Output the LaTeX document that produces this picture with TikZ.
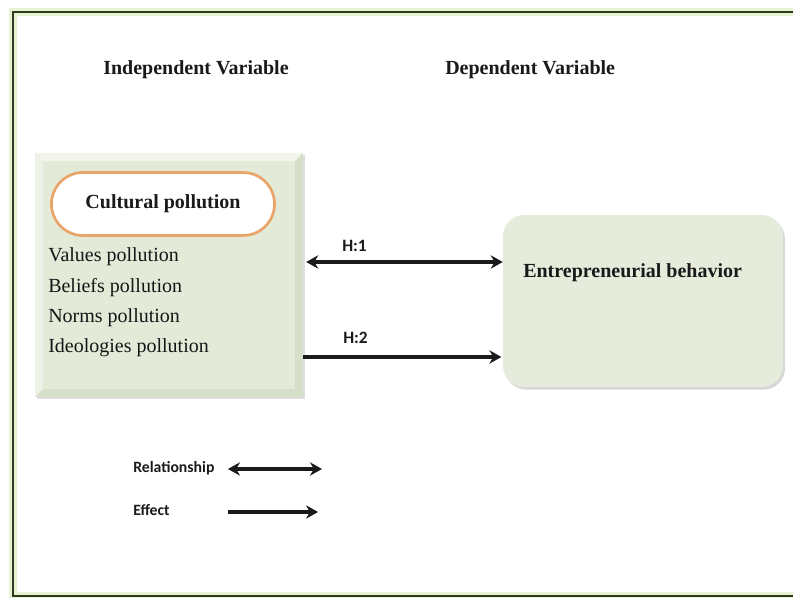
\documentclass[tikz,border=0pt]{standalone}
\usepackage{fontspec}
\setmainfont{Liberation Serif}
\newfontfamily\legfont{Carlito}
\usetikzlibrary{arrows.meta,shadows,shapes.misc}
\definecolor{framedark}{HTML}{2E3B22}
\definecolor{frameglow}{HTML}{E7F2D2}
\definecolor{boxface}{HTML}{E3EAD8}
\definecolor{boxedge}{HTML}{D6DFC8}
\definecolor{boxlight}{HTML}{F3F6EC}
\definecolor{dvface}{HTML}{E6ECDB}
\definecolor{ovalorange}{HTML}{E9A468}
\definecolor{inktext}{HTML}{1A1A1A}
\begin{document}
\begin{tikzpicture}[x=0.75pt,y=-0.75pt,
  heading/.style={font=\fontsize{15}{18}\selectfont\bfseries, text=inktext, anchor=base west, inner sep=0},
  itemtext/.style={font=\fontsize{15}{18}\selectfont, text=inktext!85!black, anchor=base west, inner sep=0},
  hyplabel/.style={font=\legfont\fontsize{13}{15}\selectfont\bfseries, text=inktext, anchor=base west, inner sep=0},
  legendtext/.style={font=\legfont\fontsize{11.8}{14}\selectfont\bfseries, text=inktext, anchor=base west, inner sep=0},
  connector/.style={line width=2.4pt, draw=inktext},
  reltip/.style={{Stealth[length=9pt,width=10pt]}-{Stealth[length=9pt,width=10pt]}},
  efftip/.style={-{Stealth[length=9pt,width=10pt]}}
]
\useasboundingbox (0,0) rectangle (793,598);
\fill[white] (0,0) rectangle (793,598);
% outer frame with glow
\draw[frameglow, line width=6pt] (800,12) -- (13,12) -- (13,596) -- (800,596);
\draw[framedark, line width=2.2pt] (800,12) -- (13,12) -- (13,596) -- (800,596);

% headings
\node[heading] (ivh) at (103,75) {Independent Variable};
\node[heading] (dvh) at (445,75) {Dependent Variable};

% left bevelled box
\node[minimum width={268*0.75pt}, minimum height={244*0.75pt}, inner sep=0,
      fill=boxedge, drop shadow={shadow xshift=1.5pt, shadow yshift=-1.5pt, opacity=0.25}] (iv) at (169,275) {};
\fill[boxlight] (35,153) -- (303,153) -- (295,161) -- (43,161) -- cycle;
\fill[boxface!60!white] (35,153) -- (43,161) -- (43,389) -- (35,397) -- cycle;
\fill[boxface] (43,161) rectangle (295,389);

% oval
\node[rounded rectangle, draw=ovalorange, line width=2pt, fill=white,
      minimum width={232*0.75pt}, minimum height={63*0.75pt},
      font=\fontsize{15}{18}\selectfont\bfseries, text=inktext] (cp) at (163,204) {Cultural pollution};

% items
\node[itemtext] (v1) at (48,262) {Values pollution};
\node[itemtext] (v2) at (48,293) {Beliefs pollution};
\node[itemtext] (v3) at (48,323) {Norms pollution};
\node[itemtext] (v4) at (48,353) {Ideologies pollution};

% right box
\node[rounded corners=16pt, minimum width={280*0.75pt}, minimum height={172*0.75pt}, inner sep=0,
      fill=dvface, drop shadow={shadow xshift=1.5pt, shadow yshift=-2pt, opacity=0.3}] (dv) at (643,301) {};
\node[heading] (dvt) at (523,278) {Entrepreneurial behavior};

% hypotheses connectors
\coordinate (ya) at (0,262);
\coordinate (yb) at (0,357);
\draw[connector, reltip] ([xshift=2.2pt]iv.east |- ya) -- (dv.west |- ya);
\draw[connector, efftip] (iv.east |- yb) -- ([xshift=-1pt]dv.west |- yb);
\node[hyplabel] (h1) at (342,252) {H:1};
\node[hyplabel] (h2) at (343,344) {H:2};

% legend
\node[legendtext] (lrel) at (133,473) {Relationship};
\node[legendtext] (leff) at (133,516) {Effect};
\coordinate (r1) at (228,469);
\coordinate (r2) at (322,469);
\coordinate (e1) at (228,512);
\coordinate (e2) at (318,512);
\draw[connector, reltip] (r1) -- (r2);
\draw[connector, efftip] (e1) -- (e2);
\end{tikzpicture}
\end{document}
